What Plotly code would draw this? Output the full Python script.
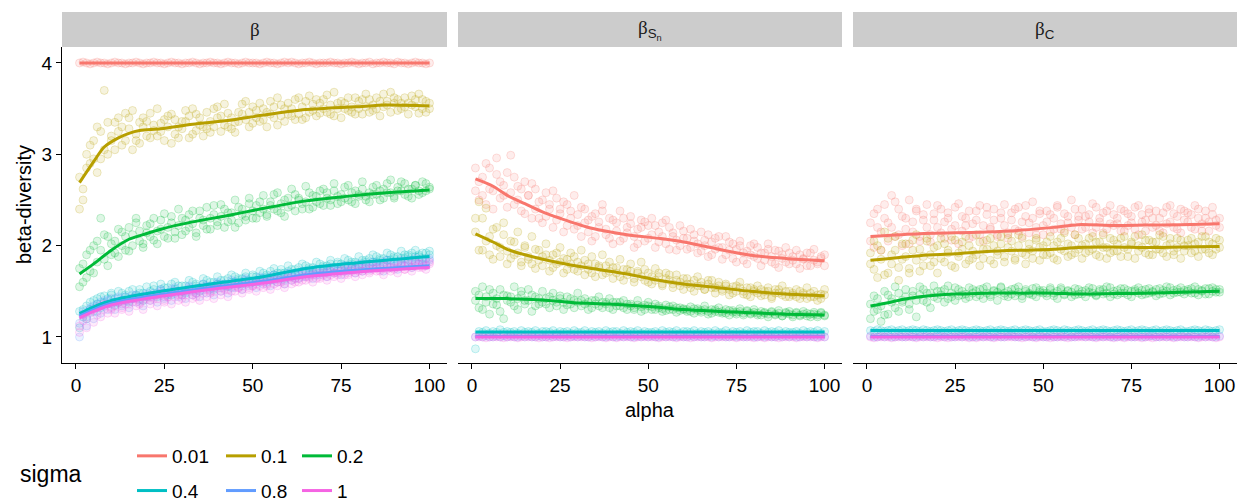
import plotly.graph_objects as go

# ---------------- data ----------------
SIGMA = ["0.01", "0.1", "0.2", "0.4", "0.8", "1"]
COLORS = ["#F8766D", "#B79F00", "#00BA38", "#00BFC4", "#619CFF", "#F564E3"]
ALPHA = list(range(1, 101))          # alpha values of the simulated points
X_TICKS = [0, 25, 50, 75, 100]
Y_TICKS = [1, 2, 3, 4]

# ---- panel 1 : beta  (points, replicate 1 and 2) ----
P1_001 = [4.00, 4.01, 4.00, 3.99, 4.00, 4.01, 4.00, 4.00, 3.99, 4.00,
          4.01, 4.00, 4.00, 3.99, 4.00, 4.00, 4.01, 4.00, 3.99, 4.00,
          4.00, 4.01, 4.00, 4.00, 3.99, 4.00, 4.01, 4.00, 4.00, 3.99,
          4.00, 4.00, 4.01, 4.00, 3.99, 4.00, 4.00, 4.01, 4.00, 4.00,
          3.99, 4.00, 4.01, 4.00, 4.00, 3.99, 4.00, 4.01, 4.00, 4.00,
          4.00, 3.99, 4.00, 4.01, 4.00, 4.00, 3.99, 4.00, 4.01, 4.00,
          4.01, 4.00, 3.99, 4.00, 4.00, 4.01, 4.00, 3.99, 4.00, 4.00,
          4.00, 4.01, 4.00, 4.00, 3.99, 4.00, 4.00, 4.01, 4.00, 3.99,
          4.00, 4.00, 4.01, 3.99, 4.00, 4.00, 4.01, 4.00, 4.00, 3.99,
          4.01, 4.00, 4.00, 3.99, 4.00, 4.01, 4.00, 4.00, 3.99, 4.00]
P1_01 = [2.40, 2.62, 2.85, 3.10, 2.95, 2.80, 3.25, 3.70, 3.00, 3.15,
         3.35, 3.25, 3.10, 3.45, 3.40, 3.05, 3.15, 3.35, 3.30, 3.20,
         3.45, 3.32, 3.20, 3.25, 3.38, 3.42, 3.12, 3.22, 3.30, 3.36,
         3.48, 3.18, 3.22, 3.44, 3.40, 3.30, 3.28, 3.24, 3.50, 3.40,
         3.25, 3.32, 3.45, 3.28, 3.35, 3.46, 3.55, 3.38, 3.30, 3.52,
         3.48, 3.36, 3.38, 3.46, 3.58, 3.40, 3.32, 3.54, 3.50, 3.44,
         3.42, 3.38, 3.62, 3.52, 3.40, 3.46, 3.55, 3.60, 3.45, 3.50,
         3.65, 3.44, 3.42, 3.56, 3.58, 3.50, 3.48, 3.46, 3.62, 3.58,
         3.44, 3.52, 3.60, 3.48, 3.50, 3.58, 3.66, 3.54, 3.46, 3.62,
         3.60, 3.50, 3.52, 3.56, 3.64, 3.52, 3.45, 3.60, 3.58, 3.50]
P1_01_B = [2.75, 2.50, 3.00, 2.90, 3.15, 3.30, 2.95, 3.05, 3.35, 3.20,
           3.05, 3.40, 3.30, 3.15, 3.28, 3.48, 3.22, 3.12, 3.40, 3.36,
           3.18, 3.26, 3.50, 3.34, 3.15, 3.30, 3.44, 3.38, 3.18, 3.28,
           3.36, 3.42, 3.50, 3.26, 3.32, 3.20, 3.46, 3.36, 3.30, 3.52,
           3.42, 3.55, 3.30, 3.40, 3.24, 3.36, 3.44, 3.58, 3.46, 3.34,
           3.40, 3.56, 3.50, 3.30, 3.44, 3.52, 3.62, 3.42, 3.36, 3.56,
           3.50, 3.60, 3.44, 3.38, 3.58, 3.64, 3.48, 3.42, 3.56, 3.60,
           3.46, 3.54, 3.68, 3.50, 3.40, 3.56, 3.62, 3.52, 3.44, 3.50,
           3.60, 3.66, 3.46, 3.54, 3.62, 3.42, 3.52, 3.58, 3.68, 3.56,
           3.48, 3.56, 3.62, 3.44, 3.54, 3.60, 3.66, 3.50, 3.46, 3.56]
P1_02 = [1.55, 1.80, 1.65, 1.95, 1.70, 2.05, 2.30, 1.85, 2.10, 1.90,
         2.05, 1.88, 2.15, 1.95, 2.20, 2.00, 2.25, 2.05, 1.98, 2.22,
         2.10, 2.30, 2.02, 2.18, 2.35, 2.08, 2.25, 2.15, 2.40, 2.12,
         2.28, 2.20, 2.38, 2.10, 2.30, 2.22, 2.42, 2.18, 2.34, 2.26,
         2.45, 2.20, 2.36, 2.28, 2.50, 2.25, 2.40, 2.32, 2.52, 2.30,
         2.44, 2.36, 2.55, 2.32, 2.48, 2.40, 2.58, 2.36, 2.50, 2.42,
         2.62, 2.38, 2.52, 2.46, 2.65, 2.40, 2.55, 2.48, 2.60, 2.44,
         2.58, 2.50, 2.68, 2.46, 2.56, 2.52, 2.66, 2.48, 2.60, 2.54,
         2.70, 2.50, 2.58, 2.56, 2.66, 2.50, 2.62, 2.58, 2.72, 2.52,
         2.64, 2.60, 2.68, 2.54, 2.62, 2.66, 2.56, 2.70, 2.60, 2.64]
P1_02_B = [1.75, 1.60, 1.90, 1.72, 2.00, 1.82, 1.95, 2.12, 1.78, 2.02,
           1.92, 2.18, 2.00, 2.10, 1.94, 2.12, 2.30, 2.16, 2.02, 2.14,
           2.24, 2.06, 2.16, 2.28, 2.10, 2.20, 2.32, 2.08, 2.22, 2.30,
           2.16, 2.34, 2.24, 2.14, 2.38, 2.28, 2.18, 2.30, 2.44, 2.22,
           2.32, 2.40, 2.26, 2.36, 2.20, 2.42, 2.34, 2.28, 2.46, 2.38,
           2.30, 2.48, 2.40, 2.34, 2.44, 2.56, 2.38, 2.46, 2.32, 2.52,
           2.44, 2.56, 2.50, 2.40, 2.48, 2.58, 2.42, 2.54, 2.46, 2.62,
           2.52, 2.44, 2.60, 2.54, 2.48, 2.64, 2.50, 2.58, 2.46, 2.56,
           2.62, 2.54, 2.48, 2.64, 2.56, 2.60, 2.52, 2.68, 2.58, 2.54,
           2.60, 2.70, 2.56, 2.62, 2.52, 2.66, 2.60, 2.58, 2.68, 2.62]
P1_04 = [1.10, 1.30, 1.20, 1.38, 1.28, 1.42, 1.32, 1.45, 1.36, 1.48,
         1.35, 1.50, 1.40, 1.46, 1.38, 1.52, 1.44, 1.48, 1.40, 1.55,
         1.46, 1.52, 1.44, 1.58, 1.48, 1.54, 1.46, 1.60, 1.50, 1.56,
         1.48, 1.62, 1.52, 1.58, 1.50, 1.64, 1.55, 1.60, 1.52, 1.66,
         1.58, 1.62, 1.55, 1.68, 1.60, 1.64, 1.58, 1.70, 1.62, 1.66,
         1.60, 1.72, 1.64, 1.68, 1.62, 1.75, 1.66, 1.70, 1.64, 1.78,
         1.68, 1.74, 1.70, 1.80, 1.72, 1.76, 1.70, 1.82, 1.74, 1.78,
         1.72, 1.84, 1.76, 1.80, 1.74, 1.86, 1.78, 1.82, 1.76, 1.88,
         1.80, 1.84, 1.78, 1.90, 1.82, 1.86, 1.80, 1.92, 1.84, 1.88,
         1.82, 1.94, 1.86, 1.90, 1.84, 1.95, 1.88, 1.92, 1.86, 1.94]
P1_04_B = [1.28, 1.22, 1.34, 1.30, 1.40, 1.36, 1.44, 1.38, 1.42, 1.46,
           1.42, 1.38, 1.48, 1.44, 1.50, 1.42, 1.46, 1.52, 1.48, 1.44,
           1.50, 1.56, 1.48, 1.52, 1.54, 1.46, 1.58, 1.52, 1.56, 1.50,
           1.56, 1.52, 1.60, 1.56, 1.54, 1.58, 1.62, 1.56, 1.60, 1.58,
           1.62, 1.58, 1.64, 1.60, 1.66, 1.62, 1.64, 1.66, 1.60, 1.68,
           1.66, 1.64, 1.70, 1.66, 1.72, 1.68, 1.70, 1.74, 1.70, 1.72,
           1.74, 1.70, 1.76, 1.72, 1.78, 1.74, 1.76, 1.72, 1.80, 1.76,
           1.78, 1.80, 1.76, 1.82, 1.80, 1.78, 1.84, 1.80, 1.82, 1.78,
           1.84, 1.82, 1.86, 1.82, 1.88, 1.84, 1.86, 1.84, 1.90, 1.86,
           1.88, 1.86, 1.90, 1.88, 1.92, 1.88, 1.90, 1.86, 1.92, 1.90]
P1_08 = [1.00, 1.25, 1.12, 1.32, 1.20, 1.36, 1.26, 1.40, 1.30, 1.42,
         1.30, 1.44, 1.34, 1.40, 1.32, 1.46, 1.38, 1.42, 1.34, 1.48,
         1.40, 1.46, 1.38, 1.52, 1.42, 1.48, 1.40, 1.54, 1.44, 1.50,
         1.42, 1.56, 1.46, 1.52, 1.44, 1.58, 1.48, 1.54, 1.46, 1.60,
         1.50, 1.56, 1.48, 1.62, 1.54, 1.58, 1.52, 1.64, 1.56, 1.60,
         1.54, 1.66, 1.58, 1.62, 1.56, 1.68, 1.60, 1.64, 1.58, 1.70,
         1.62, 1.68, 1.64, 1.72, 1.66, 1.70, 1.64, 1.74, 1.68, 1.72,
         1.66, 1.76, 1.70, 1.74, 1.68, 1.78, 1.72, 1.76, 1.70, 1.80,
         1.72, 1.78, 1.74, 1.82, 1.76, 1.78, 1.72, 1.84, 1.76, 1.80,
         1.74, 1.84, 1.78, 1.82, 1.76, 1.86, 1.80, 1.84, 1.78, 1.86]
P1_08_B = [1.15, 1.28, 1.22, 1.30, 1.34, 1.28, 1.38, 1.34, 1.40, 1.36,
           1.38, 1.42, 1.36, 1.44, 1.40, 1.42, 1.46, 1.40, 1.44, 1.46,
           1.44, 1.48, 1.46, 1.50, 1.44, 1.48, 1.52, 1.48, 1.50, 1.46,
           1.50, 1.54, 1.50, 1.48, 1.54, 1.52, 1.56, 1.52, 1.54, 1.58,
           1.54, 1.58, 1.56, 1.54, 1.60, 1.58, 1.56, 1.62, 1.58, 1.60,
           1.62, 1.60, 1.64, 1.60, 1.66, 1.62, 1.64, 1.66, 1.62, 1.68,
           1.66, 1.64, 1.68, 1.66, 1.70, 1.68, 1.72, 1.68, 1.70, 1.74,
           1.70, 1.72, 1.74, 1.72, 1.76, 1.72, 1.74, 1.78, 1.74, 1.76,
           1.76, 1.80, 1.76, 1.78, 1.80, 1.76, 1.82, 1.78, 1.80, 1.78,
           1.80, 1.82, 1.78, 1.84, 1.80, 1.82, 1.84, 1.80, 1.82, 1.84]
P1_1 = [1.05, 1.18, 1.10, 1.28, 1.16, 1.32, 1.22, 1.36, 1.26, 1.30,
        1.26, 1.38, 1.30, 1.36, 1.28, 1.42, 1.34, 1.38, 1.30, 1.44,
        1.36, 1.42, 1.34, 1.48, 1.38, 1.44, 1.36, 1.50, 1.40, 1.46,
        1.38, 1.52, 1.42, 1.48, 1.40, 1.54, 1.44, 1.50, 1.42, 1.56,
        1.46, 1.52, 1.44, 1.58, 1.50, 1.54, 1.48, 1.60, 1.52, 1.56,
        1.50, 1.62, 1.54, 1.58, 1.52, 1.64, 1.56, 1.60, 1.54, 1.66,
        1.58, 1.64, 1.60, 1.68, 1.62, 1.66, 1.60, 1.70, 1.64, 1.68,
        1.62, 1.72, 1.66, 1.70, 1.64, 1.74, 1.68, 1.72, 1.66, 1.76,
        1.68, 1.74, 1.70, 1.78, 1.72, 1.74, 1.68, 1.80, 1.72, 1.76,
        1.70, 1.80, 1.74, 1.78, 1.72, 1.82, 1.76, 1.80, 1.74, 1.82]
P1_1_B = [1.12, 1.24, 1.20, 1.26, 1.30, 1.24, 1.34, 1.30, 1.36, 1.32,
          1.34, 1.38, 1.32, 1.40, 1.36, 1.38, 1.42, 1.36, 1.40, 1.42,
          1.40, 1.44, 1.42, 1.46, 1.40, 1.44, 1.48, 1.44, 1.46, 1.42,
          1.46, 1.50, 1.46, 1.44, 1.50, 1.48, 1.52, 1.48, 1.50, 1.54,
          1.50, 1.54, 1.52, 1.50, 1.56, 1.54, 1.52, 1.58, 1.54, 1.56,
          1.58, 1.56, 1.60, 1.56, 1.62, 1.58, 1.60, 1.62, 1.58, 1.64,
          1.62, 1.60, 1.64, 1.62, 1.66, 1.64, 1.68, 1.64, 1.66, 1.70,
          1.66, 1.68, 1.70, 1.68, 1.72, 1.68, 1.70, 1.74, 1.70, 1.72,
          1.72, 1.76, 1.72, 1.74, 1.76, 1.72, 1.78, 1.74, 1.76, 1.74,
          1.76, 1.78, 1.74, 1.80, 1.76, 1.78, 1.80, 1.76, 1.78, 1.80]

# ---- panel 2 : beta_Sn (points) ----
P2_001 = [2.60, 2.50, 2.75, 2.45, 2.85, 2.60, 2.96, 2.70, 2.55, 2.80,
          2.99, 2.45, 2.65, 2.38, 2.70, 2.55, 2.30, 2.62, 2.48, 2.25,
          2.58, 2.40, 2.20, 2.52, 2.35, 2.15, 2.45, 2.30, 2.55, 2.22,
          2.10, 2.40, 2.28, 2.05, 2.35, 2.20, 2.45, 2.12, 2.30, 2.02,
          2.25, 2.38, 2.08, 2.20, 2.32, 1.98, 2.18, 2.28, 2.05, 2.22,
          2.30, 1.98, 2.15, 2.25, 2.02, 2.20, 2.10, 1.95, 2.22, 2.08,
          1.96, 2.18, 2.05, 1.92, 2.15, 2.00, 2.12, 1.90, 2.08, 1.98,
          1.85, 2.10, 1.95, 2.02, 1.82, 2.05, 1.92, 1.80, 2.00, 1.88,
          1.98, 1.78, 1.92, 2.02, 1.82, 1.95, 1.76, 1.90, 1.98, 1.80,
          1.88, 1.95, 1.75, 1.85, 1.92, 1.78, 1.96, 1.82, 1.88, 1.78]
P2_001_B = [2.85, 2.70, 2.55, 2.90, 2.62, 2.40, 2.78, 2.52, 2.66, 2.42,
            2.58, 2.75, 2.50, 2.62, 2.35, 2.55, 2.68, 2.40, 2.30, 2.50,
            2.32, 2.45, 2.60, 2.28, 2.40, 2.48, 2.22, 2.38, 2.18, 2.34,
            2.42, 2.25, 2.15, 2.32, 2.10, 2.26, 2.38, 2.18, 2.08, 2.28,
            2.16, 2.05, 2.30, 2.14, 2.24, 2.10, 2.02, 2.20, 2.26, 2.08,
            2.12, 2.22, 2.04, 2.10, 2.28, 1.96, 2.14, 2.06, 2.00, 2.16,
            2.08, 1.98, 2.12, 2.02, 1.94, 2.06, 1.88, 2.04, 1.96, 2.10,
            1.98, 1.90, 2.04, 1.86, 1.96, 2.00, 1.84, 1.94, 1.90, 2.02,
            1.86, 1.92, 1.84, 1.96, 1.88, 1.80, 1.94, 1.86, 1.82, 1.92,
            1.84, 1.80, 1.90, 1.86, 1.78, 1.92, 1.84, 1.80, 1.86, 1.90]
P2_01 = [2.30, 2.48, 1.95, 2.41, 2.10, 1.85, 2.20, 1.98, 2.25, 1.80,
         2.05, 1.90, 2.15, 1.78, 2.00, 1.85, 2.10, 1.75, 1.95, 1.88,
         2.02, 1.72, 1.90, 1.80, 1.98, 1.70, 1.85, 1.92, 1.74, 1.82,
         1.95, 1.68, 1.80, 1.88, 1.66, 1.78, 1.90, 1.70, 1.82, 1.64,
         1.76, 1.85, 1.62, 1.74, 1.80, 1.60, 1.72, 1.82, 1.62, 1.70,
         1.58, 1.75, 1.66, 1.56, 1.70, 1.62, 1.54, 1.68, 1.60, 1.52,
         1.64, 1.58, 1.50, 1.66, 1.56, 1.52, 1.62, 1.54, 1.48, 1.60,
         1.52, 1.58, 1.46, 1.55, 1.50, 1.60, 1.47, 1.54, 1.44, 1.52,
         1.56, 1.45, 1.50, 1.54, 1.42, 1.52, 1.48, 1.56, 1.44, 1.50,
         1.46, 1.52, 1.42, 1.48, 1.54, 1.44, 1.50, 1.40, 1.47, 1.52]
P2_01_B = [2.15, 1.95, 2.30, 2.05, 1.90, 2.18, 2.00, 1.88, 2.12, 1.94,
           1.86, 2.04, 1.92, 1.82, 1.98, 1.88, 1.80, 1.96, 1.84, 1.78,
           1.90, 1.84, 1.76, 1.92, 1.82, 1.86, 1.74, 1.80, 1.88, 1.72,
           1.78, 1.84, 1.74, 1.70, 1.80, 1.76, 1.68, 1.78, 1.72, 1.76,
           1.70, 1.66, 1.74, 1.68, 1.72, 1.64, 1.70, 1.66, 1.74, 1.60,
           1.66, 1.62, 1.70, 1.58, 1.64, 1.68, 1.58, 1.62, 1.56, 1.64,
           1.58, 1.54, 1.62, 1.56, 1.60, 1.52, 1.58, 1.62, 1.54, 1.56,
           1.50, 1.56, 1.52, 1.48, 1.56, 1.54, 1.50, 1.46, 1.54, 1.50,
           1.48, 1.52, 1.46, 1.50, 1.44, 1.48, 1.52, 1.46, 1.50, 1.44,
           1.48, 1.44, 1.50, 1.46, 1.42, 1.48, 1.44, 1.46, 1.42, 1.46]
P2_02 = [1.50, 1.32, 1.55, 1.38, 1.25, 1.48, 1.35, 1.52, 1.20, 1.45,
         1.38, 1.55, 1.30, 1.46, 1.40, 1.52, 1.28, 1.44, 1.36, 1.50,
         1.42, 1.32, 1.48, 1.38, 1.45, 1.30, 1.44, 1.36, 1.40, 1.48,
         1.34, 1.42, 1.30, 1.40, 1.36, 1.44, 1.32, 1.38, 1.42, 1.30,
         1.38, 1.34, 1.40, 1.30, 1.36, 1.32, 1.40, 1.28, 1.35, 1.38,
         1.30, 1.36, 1.32, 1.28, 1.35, 1.30, 1.34, 1.27, 1.32, 1.30,
         1.28, 1.33, 1.26, 1.31, 1.29, 1.34, 1.25, 1.30, 1.28, 1.32,
         1.26, 1.30, 1.24, 1.29, 1.27, 1.31, 1.24, 1.28, 1.26, 1.30,
         1.24, 1.28, 1.26, 1.22, 1.27, 1.25, 1.29, 1.23, 1.26, 1.28,
         1.22, 1.26, 1.24, 1.28, 1.23, 1.25, 1.27, 1.22, 1.26, 1.24]
P2_02_B = [1.40, 1.46, 1.30, 1.44, 1.52, 1.36, 1.42, 1.28, 1.46, 1.40,
           1.44, 1.34, 1.42, 1.50, 1.36, 1.40, 1.46, 1.34, 1.42, 1.38,
           1.36, 1.44, 1.40, 1.34, 1.42, 1.38, 1.35, 1.42, 1.32, 1.38,
           1.40, 1.36, 1.38, 1.32, 1.40, 1.34, 1.38, 1.36, 1.32, 1.38,
           1.34, 1.38, 1.32, 1.36, 1.34, 1.30, 1.35, 1.33, 1.30, 1.34,
           1.33, 1.30, 1.34, 1.31, 1.29, 1.33, 1.30, 1.32, 1.29, 1.31,
           1.30, 1.28, 1.31, 1.29, 1.27, 1.30, 1.28, 1.26, 1.30, 1.27,
           1.28, 1.26, 1.29, 1.27, 1.25, 1.28, 1.26, 1.29, 1.25, 1.27,
           1.26, 1.24, 1.27, 1.25, 1.28, 1.24, 1.26, 1.23, 1.27, 1.25,
           1.24, 1.27, 1.23, 1.25, 1.26, 1.22, 1.25, 1.24, 1.27, 1.23]
P2_04 = [0.87, 1.06, 1.05, 1.07, 1.04, 1.06, 1.05, 1.08, 1.05, 1.06,
         1.05, 1.06, 1.04, 1.07, 1.05, 1.06, 1.05, 1.07, 1.04, 1.06,
         1.06, 1.05, 1.07, 1.04, 1.06, 1.05, 1.06, 1.04, 1.07, 1.05,
         1.05, 1.07, 1.04, 1.06, 1.05, 1.06, 1.04, 1.07, 1.05, 1.06,
         1.06, 1.04, 1.07, 1.05, 1.06, 1.05, 1.07, 1.04, 1.06, 1.05,
         1.05, 1.06, 1.04, 1.07, 1.05, 1.06, 1.05, 1.07, 1.04, 1.06,
         1.06, 1.05, 1.07, 1.04, 1.06, 1.05, 1.06, 1.04, 1.07, 1.05,
         1.05, 1.07, 1.04, 1.06, 1.05, 1.06, 1.04, 1.07, 1.05, 1.06,
         1.06, 1.04, 1.07, 1.05, 1.06, 1.05, 1.07, 1.04, 1.06, 1.05,
         1.05, 1.06, 1.04, 1.07, 1.05, 1.06, 1.05, 1.07, 1.04, 1.06]
P2_08 = [1.00, 1.01, 1.00, 1.01, 1.00, 1.00, 1.01, 1.00, 1.01, 1.00,
         1.01, 1.00, 1.00, 1.01, 1.00, 1.01, 1.00, 1.00, 1.01, 1.00,
         1.00, 1.01, 1.00, 1.01, 1.00, 1.00, 1.01, 1.00, 1.01, 1.00,
         1.01, 1.00, 1.00, 1.01, 1.00, 1.01, 1.00, 1.00, 1.01, 1.00,
         1.00, 1.01, 1.00, 1.01, 1.00, 1.00, 1.01, 1.00, 1.01, 1.00,
         1.01, 1.00, 1.00, 1.01, 1.00, 1.01, 1.00, 1.00, 1.01, 1.00,
         1.00, 1.01, 1.00, 1.01, 1.00, 1.00, 1.01, 1.00, 1.01, 1.00,
         1.01, 1.00, 1.00, 1.01, 1.00, 1.01, 1.00, 1.00, 1.01, 1.00,
         1.00, 1.01, 1.00, 1.01, 1.00, 1.00, 1.01, 1.00, 1.01, 1.00,
         1.01, 1.00, 1.00, 1.01, 1.00, 1.01, 1.00, 1.00, 1.01, 1.00]
P2_1 = [1.00, 1.00, 1.00, 0.99, 1.00, 1.00, 1.00, 1.00, 0.99, 1.00,
        1.00, 1.00, 0.99, 1.00, 1.00, 1.00, 1.00, 1.00, 0.99, 1.00,
        1.00, 0.99, 1.00, 1.00, 1.00, 1.00, 0.99, 1.00, 1.00, 1.00,
        1.00, 1.00, 1.00, 0.99, 1.00, 1.00, 1.00, 0.99, 1.00, 1.00,
        0.99, 1.00, 1.00, 1.00, 1.00, 0.99, 1.00, 1.00, 1.00, 1.00,
        1.00, 1.00, 0.99, 1.00, 1.00, 1.00, 1.00, 0.99, 1.00, 1.00,
        1.00, 0.99, 1.00, 1.00, 1.00, 1.00, 1.00, 0.99, 1.00, 1.00,
        1.00, 1.00, 1.00, 1.00, 0.99, 1.00, 1.00, 1.00, 1.00, 0.99,
        1.00, 1.00, 0.99, 1.00, 1.00, 1.00, 0.99, 1.00, 1.00, 1.00,
        1.00, 0.99, 1.00, 1.00, 1.00, 1.00, 1.00, 0.99, 1.00, 1.00]

# ---- panel 3 : beta_C (points) ----
P3_001 = [2.05, 2.35, 2.20, 1.95, 2.45, 2.25, 2.55, 2.10, 2.40, 2.00,
          2.30, 2.50, 2.15, 2.38, 2.05, 2.28, 2.45, 2.12, 2.35, 2.20,
          2.40, 2.08, 2.30, 2.18, 2.42, 2.02, 2.32, 2.22, 2.38, 2.10,
          2.28, 2.44, 2.05, 2.34, 2.20, 2.40, 2.12, 2.30, 2.45, 2.08,
          2.36, 2.18, 2.42, 2.10, 2.32, 2.25, 2.48, 2.12, 2.35, 2.22,
          2.38, 2.15, 2.30, 2.44, 2.18, 2.35, 2.25, 2.50, 2.12, 2.32,
          2.40, 2.20, 2.34, 2.14, 2.42, 2.26, 2.36, 2.18, 2.44, 2.22,
          2.30, 2.40, 2.16, 2.35, 2.25, 2.42, 2.12, 2.34, 2.28, 2.40,
          2.20, 2.38, 2.30, 2.14, 2.42, 2.26, 2.35, 2.18, 2.40, 2.28,
          2.36, 2.20, 2.44, 2.30, 2.16, 2.38, 2.26, 2.34, 2.22, 2.30]
P3_001_B = [2.25, 1.98, 2.40, 2.15, 2.30, 2.05, 2.20, 2.48, 2.12, 2.32,
            2.18, 2.02, 2.26, 2.40, 2.10, 2.34, 2.20, 2.04, 2.28, 2.44,
            2.14, 2.26, 2.36, 2.06, 2.22, 2.46, 2.16, 2.30, 2.08, 2.24,
            2.38, 2.12, 2.22, 2.42, 2.18, 2.28, 2.10, 2.36, 2.22, 2.14,
            2.28, 2.40, 2.16, 2.26, 2.44, 2.14, 2.30, 2.20, 2.38, 2.12,
            2.26, 2.34, 2.18, 2.42, 2.24, 2.16, 2.32, 2.20, 2.40, 2.28,
            2.18, 2.32, 2.26, 2.46, 2.20, 2.30, 2.14, 2.38, 2.24, 2.34,
            2.24, 2.16, 2.38, 2.22, 2.32, 2.18, 2.44, 2.26, 2.16, 2.36,
            2.30, 2.22, 2.16, 2.36, 2.24, 2.44, 2.20, 2.32, 2.14, 2.38,
            2.26, 2.34, 2.18, 2.40, 2.24, 2.30, 2.16, 2.42, 2.28, 2.20]
P3_01 = [1.80, 2.05, 1.65, 1.95, 2.15, 1.70, 1.90, 2.10, 1.62, 1.85,
         2.02, 1.75, 1.95, 2.12, 1.72, 1.88, 2.05, 1.78, 1.98, 1.70,
         2.08, 1.82, 1.95, 2.10, 1.76, 1.92, 2.04, 1.80, 2.00, 1.86,
         2.12, 1.78, 1.96, 2.06, 1.84, 2.00, 1.90, 2.10, 1.82, 1.98,
         2.05, 1.86, 2.12, 1.92, 1.80, 2.02, 1.94, 2.08, 1.84, 2.00,
         1.90, 2.10, 1.86, 2.04, 1.96, 2.14, 1.88, 2.00, 1.92, 2.08,
         1.86, 2.02, 1.94, 2.10, 1.90, 2.04, 1.98, 1.86, 2.08, 1.94,
         2.02, 1.88, 2.10, 1.96, 2.04, 1.86, 2.00, 2.12, 1.92, 2.06,
         1.90, 2.04, 1.96, 2.10, 1.88, 2.02, 1.94, 2.08, 1.86, 2.00,
         2.06, 1.92, 2.02, 1.88, 2.10, 1.96, 2.04, 1.90, 2.08, 1.98]
P3_01_B = [1.92, 1.74, 2.00, 1.85, 1.68, 2.08, 1.80, 1.95, 1.76, 2.02,
           1.88, 1.70, 2.06, 1.84, 1.96, 1.78, 2.08, 1.90, 1.82, 2.00,
           1.86, 2.02, 1.92, 1.78, 2.06, 1.88, 1.96, 2.10, 1.84, 1.94,
           1.90, 2.04, 1.86, 1.96, 2.08, 1.80, 1.94, 2.02, 1.88, 2.12,
           1.94, 1.84, 2.00, 2.08, 1.90, 1.96, 1.86, 2.06, 1.98, 1.90,
           2.04, 1.92, 2.00, 1.84, 2.08, 1.94, 2.02, 1.90, 2.12, 1.96,
           2.00, 1.92, 2.08, 1.96, 2.04, 1.88, 2.12, 1.98, 1.92, 2.06,
           1.94, 2.08, 1.98, 1.88, 2.02, 2.10, 1.94, 1.98, 2.06, 1.90,
           2.04, 1.96, 2.12, 1.92, 2.00, 2.08, 1.90, 1.98, 2.06, 1.94,
           2.00, 2.08, 1.94, 2.04, 1.96, 2.10, 1.92, 2.02, 1.96, 2.06]
P3_02 = [1.20, 1.45, 1.30, 1.17, 1.50, 1.25, 1.42, 1.55, 1.28, 1.38,
         1.52, 1.30, 1.45, 1.22, 1.55, 1.40, 1.48, 1.32, 1.56, 1.42,
         1.50, 1.38, 1.56, 1.44, 1.40, 1.52, 1.46, 1.42, 1.54, 1.48,
         1.44, 1.52, 1.42, 1.55, 1.46, 1.50, 1.40, 1.54, 1.48, 1.44,
         1.52, 1.45, 1.55, 1.42, 1.50, 1.47, 1.53, 1.44, 1.51, 1.48,
         1.45, 1.54, 1.48, 1.42, 1.52, 1.46, 1.50, 1.44, 1.53, 1.47,
         1.50, 1.44, 1.54, 1.48, 1.45, 1.52, 1.47, 1.55, 1.44, 1.50,
         1.46, 1.53, 1.48, 1.51, 1.44, 1.50, 1.54, 1.46, 1.52, 1.48,
         1.50, 1.45, 1.53, 1.48, 1.55, 1.46, 1.51, 1.49, 1.54, 1.47,
         1.52, 1.48, 1.55, 1.46, 1.51, 1.53, 1.47, 1.54, 1.49, 1.52]
P3_02_B = [1.36, 1.28, 1.42, 1.34, 1.24, 1.46, 1.38, 1.32, 1.48, 1.40,
           1.44, 1.36, 1.50, 1.40, 1.46, 1.52, 1.38, 1.48, 1.44, 1.50,
           1.46, 1.52, 1.42, 1.48, 1.54, 1.45, 1.50, 1.47, 1.44, 1.52,
           1.50, 1.46, 1.53, 1.48, 1.44, 1.51, 1.49, 1.55, 1.45, 1.50,
           1.47, 1.53, 1.49, 1.45, 1.52, 1.48, 1.46, 1.54, 1.49, 1.51,
           1.48, 1.52, 1.45, 1.50, 1.54, 1.47, 1.51, 1.49, 1.46, 1.52,
           1.47, 1.51, 1.49, 1.53, 1.46, 1.50, 1.52, 1.48, 1.54, 1.47,
           1.51, 1.48, 1.53, 1.46, 1.50, 1.52, 1.48, 1.51, 1.47, 1.53,
           1.49, 1.52, 1.47, 1.51, 1.50, 1.54, 1.48, 1.52, 1.49, 1.51,
           1.50, 1.53, 1.48, 1.52, 1.50, 1.47, 1.53, 1.50, 1.52, 1.49]
P3_04 = [1.07, 1.06, 1.08, 1.07, 1.06, 1.07, 1.08, 1.06, 1.07, 1.08,
         1.06, 1.07, 1.08, 1.07, 1.06, 1.08, 1.07, 1.06, 1.07, 1.08,
         1.07, 1.06, 1.07, 1.08, 1.06, 1.07, 1.08, 1.07, 1.06, 1.07,
         1.08, 1.07, 1.06, 1.07, 1.08, 1.06, 1.07, 1.08, 1.07, 1.06,
         1.07, 1.08, 1.06, 1.07, 1.08, 1.07, 1.06, 1.07, 1.08, 1.06,
         1.06, 1.07, 1.08, 1.07, 1.06, 1.08, 1.07, 1.06, 1.07, 1.08,
         1.07, 1.06, 1.07, 1.08, 1.06, 1.07, 1.08, 1.07, 1.06, 1.07,
         1.08, 1.07, 1.06, 1.07, 1.08, 1.06, 1.07, 1.08, 1.07, 1.06,
         1.07, 1.08, 1.06, 1.07, 1.08, 1.07, 1.06, 1.07, 1.08, 1.06,
         1.06, 1.07, 1.08, 1.07, 1.06, 1.08, 1.07, 1.06, 1.07, 1.08]
P3_08 = [1.01, 1.00, 1.00, 1.01, 1.00, 1.01, 1.00, 1.00, 1.01, 1.00,
         1.00, 1.01, 1.00, 1.00, 1.01, 1.00, 1.01, 1.00, 1.00, 1.01,
         1.01, 1.00, 1.01, 1.00, 1.00, 1.01, 1.00, 1.01, 1.00, 1.00,
         1.00, 1.01, 1.00, 1.01, 1.00, 1.00, 1.01, 1.00, 1.00, 1.01,
         1.01, 1.00, 1.00, 1.01, 1.00, 1.01, 1.00, 1.00, 1.01, 1.00,
         1.00, 1.01, 1.00, 1.00, 1.01, 1.00, 1.01, 1.00, 1.00, 1.01,
         1.01, 1.00, 1.01, 1.00, 1.00, 1.01, 1.00, 1.01, 1.00, 1.00,
         1.00, 1.01, 1.00, 1.01, 1.00, 1.00, 1.01, 1.00, 1.00, 1.01,
         1.01, 1.00, 1.00, 1.01, 1.00, 1.01, 1.00, 1.00, 1.01, 1.00,
         1.00, 1.01, 1.00, 1.00, 1.01, 1.00, 1.01, 1.00, 1.00, 1.01]
P3_1 = [1.00, 0.99, 1.00, 1.00, 1.00, 1.00, 0.99, 1.00, 1.00, 1.00,
        1.00, 1.00, 1.00, 0.99, 1.00, 1.00, 1.00, 1.00, 1.00, 0.99,
        1.00, 1.00, 0.99, 1.00, 1.00, 1.00, 1.00, 1.00, 0.99, 1.00,
        0.99, 1.00, 1.00, 1.00, 1.00, 0.99, 1.00, 1.00, 1.00, 1.00,
        1.00, 1.00, 1.00, 0.99, 1.00, 1.00, 1.00, 0.99, 1.00, 1.00,
        1.00, 0.99, 1.00, 1.00, 1.00, 1.00, 0.99, 1.00, 1.00, 1.00,
        1.00, 1.00, 1.00, 1.00, 0.99, 1.00, 1.00, 1.00, 1.00, 0.99,
        1.00, 1.00, 0.99, 1.00, 1.00, 1.00, 1.00, 0.99, 1.00, 1.00,
        0.99, 1.00, 1.00, 1.00, 1.00, 1.00, 0.99, 1.00, 1.00, 1.00,
        1.00, 1.00, 1.00, 0.99, 1.00, 1.00, 1.00, 1.00, 0.99, 1.00]

# ---- smoothed fits (loess curves) ----
F1_X = {"0.01": [1, 50, 100],
        "0.1": [1, 5, 8, 12, 15, 18, 24, 33, 43, 53, 65, 79, 88, 100],
        "0.2": [1, 5, 10, 15, 19, 24, 33, 43, 52, 65, 79, 88, 100],
        "0.4": [1, 5, 10, 24, 38, 53, 65, 79, 100],
        "0.8": [1, 5, 10, 24, 38, 53, 65, 79, 100],
        "1": [1, 5, 10, 24, 38, 53, 65, 79, 100]}
F1_Y = {"0.01": [4.0, 4.0, 4.0],
        "0.1": [2.69, 2.92, 3.08, 3.18, 3.23, 3.26, 3.28, 3.33, 3.37, 3.43, 3.49, 3.52, 3.54, 3.53],
        "0.2": [1.69, 1.80, 1.95, 2.07, 2.12, 2.18, 2.26, 2.33, 2.40, 2.49, 2.55, 2.58, 2.61],
        "0.4": [1.255, 1.33, 1.40, 1.50, 1.58, 1.66, 1.75, 1.81, 1.88],
        "0.8": [1.23, 1.30, 1.37, 1.465, 1.54, 1.61, 1.68, 1.73, 1.78],
        "1": [1.21, 1.28, 1.35, 1.445, 1.52, 1.59, 1.66, 1.71, 1.76]}
F2_X = {"0.01": [1, 6, 10, 15, 20, 25, 34, 44, 53, 60, 70, 79, 89, 100],
        "0.1": [1, 6, 10, 15, 25, 34, 44, 53, 60, 70, 79, 89, 100],
        "0.2": [1, 10, 20, 29, 39, 53, 60, 70, 79, 89, 100],
        "0.4": [1, 50, 100],
        "0.8": [1, 50, 100],
        "1": [1, 50, 100]}
F2_Y = {"0.01": [2.73, 2.65, 2.55, 2.46, 2.37, 2.30, 2.19, 2.12, 2.08, 2.04, 1.96, 1.895, 1.86, 1.835],
        "0.1": [2.13, 2.04, 1.96, 1.90, 1.81, 1.75, 1.69, 1.62, 1.58, 1.54, 1.50, 1.47, 1.45],
        "0.2": [1.42, 1.42, 1.405, 1.375, 1.36, 1.325, 1.30, 1.28, 1.265, 1.25, 1.24],
        "0.4": [1.055, 1.055, 1.055],
        "0.8": [1.005, 1.005, 1.005],
        "1": [1.0, 1.0, 1.0]}
F3_X = {"0.01": [1, 15, 25, 34, 44, 53, 60, 70, 79, 89, 100],
        "0.1": [1, 15, 25, 34, 44, 53, 60, 70, 79, 89, 100],
        "0.2": [1, 6, 10, 15, 25, 34, 44, 53, 60, 70, 79, 89, 100],
        "0.4": [1, 50, 100],
        "0.8": [1, 50, 100],
        "1": [1, 50, 100]}
F3_Y = {"0.01": [2.10, 2.13, 2.14, 2.15, 2.17, 2.20, 2.23, 2.22, 2.225, 2.23, 2.24],
        "0.1": [1.84, 1.89, 1.91, 1.935, 1.95, 1.96, 1.98, 1.985, 1.98, 1.985, 1.99],
        "0.2": [1.34, 1.375, 1.41, 1.44, 1.47, 1.48, 1.48, 1.48, 1.47, 1.475, 1.48, 1.49, 1.50],
        "0.4": [1.07, 1.07, 1.07],
        "0.8": [1.005, 1.005, 1.005],
        "1": [1.0, 1.0, 1.0]}

PANELS = [
    {"points": dict(zip(SIGMA, [[P1_001], [P1_01, P1_01_B], [P1_02, P1_02_B],
                                [P1_04, P1_04_B], [P1_08, P1_08_B], [P1_1, P1_1_B]])),
     "fx": F1_X, "fy": F1_Y},
    {"points": dict(zip(SIGMA, [[P2_001, P2_001_B], [P2_01, P2_01_B], [P2_02, P2_02_B],
                                [P2_04], [P2_08], [P2_1]])),
     "fx": F2_X, "fy": F2_Y},
    {"points": dict(zip(SIGMA, [[P3_001, P3_001_B], [P3_01, P3_01_B], [P3_02, P3_02_B],
                                [P3_04], [P3_08], [P3_1]])),
     "fx": F3_X, "fy": F3_Y},
]

# ---------------- layout constants ----------------
W, H = 1244, 504
PANEL_PX = [(62, 447), (458, 842), (853, 1237)]
TOP_PX, BOT_PX = 47, 363
STRIP_TOP_PX = 12
FONT = "Liberation Sans, Arial, sans-serif"


def rgba(hexc, a):
    h = hexc.lstrip("#")
    return "rgba(%d,%d,%d,%.3f)" % (int(h[0:2], 16), int(h[2:4], 16), int(h[4:6], 16), a)


def px_x(p):
    return p / W


def px_y(p):
    return (H - p) / H


fig = go.Figure()

LEGEND_OF = {"0.01": "legend", "0.4": "legend",
             "0.1": "legend2", "0.8": "legend2",
             "0.2": "legend3", "1": "legend3"}

for pi, panel in enumerate(PANELS):
    xa = "x" if pi == 0 else "x%d" % (pi + 1)
    ya = "y" if pi == 0 else "y%d" % (pi + 1)
    # points first (ggplot draws geom_point layer before geom_smooth)
    for s, c in zip(SIGMA, COLORS):
        xs, ys = [], []
        for rep in panel["points"][s]:
            xs += ALPHA
            ys += rep
        fig.add_trace(go.Scatter(
            x=xs, y=ys, mode="markers", xaxis=xa, yaxis=ya,
            marker=dict(size=8, color=rgba(c, 0.13), line=dict(width=1, color=rgba(c, 0.22))),
            showlegend=False, hoverinfo="skip", legendgroup=s))
    for s, c in zip(SIGMA, COLORS):
        fig.add_trace(go.Scatter(
            x=panel["fx"][s], y=panel["fy"][s], mode="lines", xaxis=xa, yaxis=ya,
            line=dict(color=c, width=3, shape="spline", smoothing=0.8),
            name=s, legendgroup=s, legend=LEGEND_OF[s], showlegend=(pi == 0)))

axis_common = dict(showgrid=False, zeroline=False, showline=True, linecolor="black", linewidth=1,
                   ticks="outside", ticklen=5, tickwidth=1, tickcolor="black", automargin=False,
                   tickfont=dict(family=FONT, size=19, color="black"))
ydom = [px_y(BOT_PX), px_y(TOP_PX)]
layout = dict(width=W, height=H, margin=dict(l=0, r=0, t=0, b=0, autoexpand=False),
              plot_bgcolor="white", paper_bgcolor="white", font=dict(family=FONT, color="black"))
for pi, (a, b) in enumerate(PANEL_PX):
    k = "" if pi == 0 else str(pi + 1)
    layout["xaxis" + k] = dict(axis_common, domain=[px_x(a), px_x(b)], range=[-3.95, 104.95],
                               tickvals=X_TICKS, anchor="y" + k)
    yax = dict(axis_common, domain=ydom, range=[0.715, 4.175], tickvals=Y_TICKS, anchor="x" + k)
    if pi > 0:
        yax.update(showline=False, ticks="", showticklabels=False, matches="y")
    layout["yaxis" + k] = yax

leg_common = dict(orientation="v", font=dict(family=FONT, size=19, color="black"),
                  bgcolor="rgba(0,0,0,0)", tracegroupgap=7, yanchor="top", y=px_y(437),
                  itemclick=False, itemdoubleclick=False)
layout["legend"] = dict(leg_common, x=px_x(132), xanchor="left")
layout["legend2"] = dict(leg_common, x=px_x(221), xanchor="left")
layout["legend3"] = dict(leg_common, x=px_x(297), xanchor="left")
fig.update_layout(**layout)

# strips
STRIP_LABELS = [
    '<span style="font-family:Liberation Serif">β</span>',
    '<span style="font-family:Liberation Serif">β</span><sub>S<sub>n</sub></sub>',
    '<span style="font-family:Liberation Serif">β</span><sub>C</sub>',
]
for (a, b), lab in zip(PANEL_PX, STRIP_LABELS):
    fig.add_shape(type="rect", xref="paper", yref="paper", x0=px_x(a), x1=px_x(b),
                  y0=px_y(TOP_PX), y1=px_y(STRIP_TOP_PX), fillcolor="#CCCCCC", line=dict(width=0),
                  layer="below")
    fig.add_annotation(xref="paper", yref="paper", x=px_x((a + b) / 2), y=px_y((TOP_PX + STRIP_TOP_PX) / 2),
                       text=lab, showarrow=False, font=dict(family=FONT, size=19, color="#1A1A1A"),
                       xanchor="center", yanchor="middle")

# axis titles and legend title
fig.add_annotation(xref="paper", yref="paper", x=px_x((PANEL_PX[0][0] + PANEL_PX[2][1]) / 2), y=px_y(410),
                   text="alpha", showarrow=False, font=dict(family=FONT, size=20, color="black"),
                   xanchor="center", yanchor="middle")
fig.add_annotation(xref="paper", yref="paper", x=px_x(24), y=px_y((TOP_PX + BOT_PX) / 2),
                   text="beta-diversity", textangle=-90, showarrow=False,
                   font=dict(family=FONT, size=20, color="black"), xanchor="center", yanchor="middle")
fig.add_annotation(xref="paper", yref="paper", x=px_x(18), y=px_y(474),
                   text="sigma", showarrow=False, font=dict(family=FONT, size=23, color="black"),
                   xanchor="left", yanchor="middle")

# remove the browser's default 8px body margin so the figure fills the window exactly
fig.write_html("out.html", config={"displayModeBar": False},
               post_script="document.body.style.margin='0';document.body.style.overflow='hidden';")
